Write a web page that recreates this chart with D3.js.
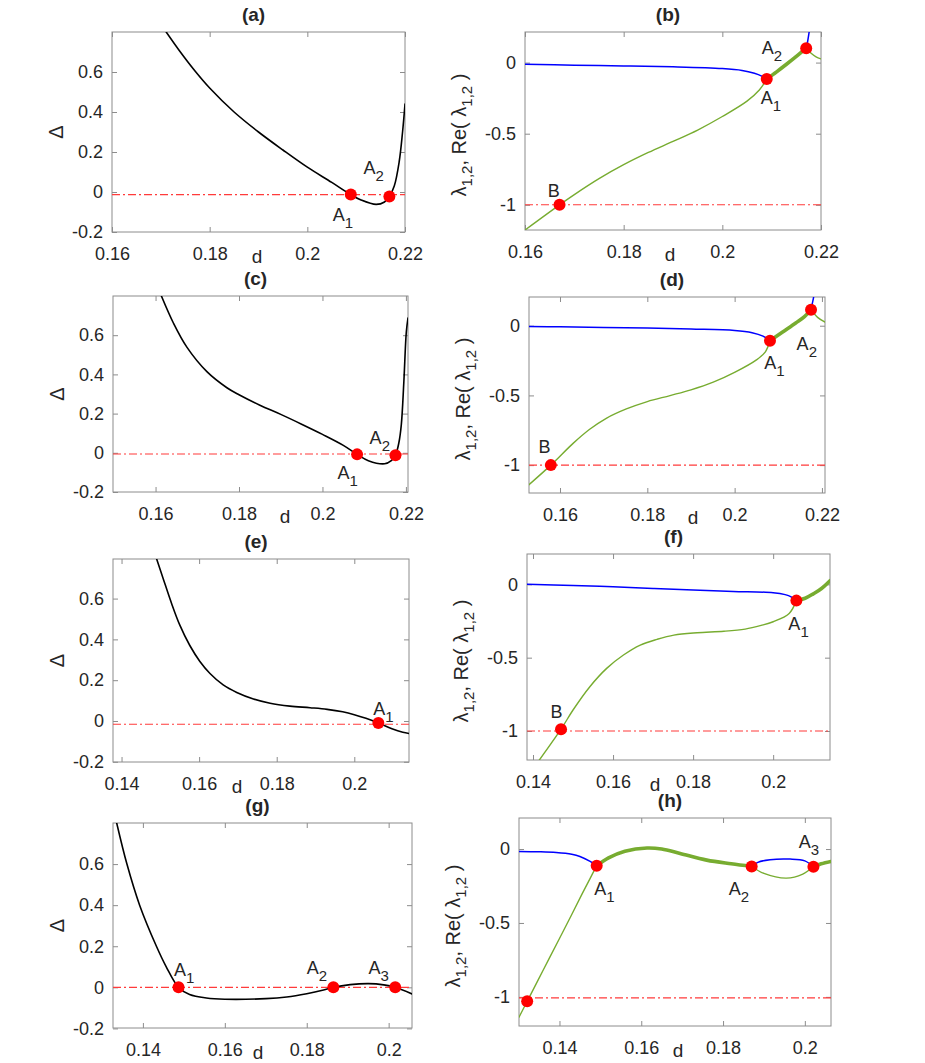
<!DOCTYPE html>
<html><head><meta charset="utf-8">
<script src="https://cdn.jsdelivr.net/npm/d3@7"></script>
<style>
body{margin:0;background:#fff}
svg text{font-family:"Liberation Sans",Arial,Helvetica,sans-serif;fill:#262626}
</style>
</head><body>
<svg id="chart" width="925" height="1063"></svg>
<script>
// ---------------- DATA ----------------
const xTicksABCD = [0.16, 0.18, 0.2, 0.22];
const xTicksEFGH = [0.14, 0.16, 0.18, 0.2];
const deltaTicks = [-0.2, 0, 0.2, 0.4, 0.6];
const lambdaTicks = [-1, -0.5, 0];

// (a) Delta(d)
const deltaA = [[0.1711,0.80],[0.1740,0.70],[0.1770,0.605],[0.1800,0.52],[0.1850,0.40],[0.1900,0.30],[0.1950,0.21],[0.2000,0.124],[0.2050,0.048],[0.2089,-0.013],[0.2110,-0.040],[0.2141,-0.062],[0.2158,-0.050],[0.2168,-0.022],[0.2178,0.03],[0.2188,0.15],[0.2195,0.30],[0.2200,0.44]];
const pointsA = [[0.2089,-0.013],[0.2168,-0.022]];
const labelsA = [["A","1",0.2052,-0.146],["A","2",0.2115,0.091]];
const refA = -0.013;

// (b) eigenvalues
const blueB1 = [[0.1600,-0.012],[0.1700,-0.018],[0.1800,-0.024],[0.1900,-0.030],[0.2000,-0.042],[0.2040,-0.055],[0.2065,-0.075],[0.2080,-0.095],[0.2090,-0.116]];
const blueB2 = [[0.2170,0.101],[0.2173,0.150],[0.2176,0.215],[0.2178,0.26]];
const greenB1 = [[0.1600,-1.177],[0.1670,-1.0],[0.1700,-0.928],[0.1750,-0.816],[0.1800,-0.718],[0.1850,-0.632],[0.1900,-0.554],[0.1950,-0.474],[0.2000,-0.379],[0.2050,-0.271],[0.2075,-0.193],[0.2090,-0.116]];
const greenB2 = [[0.2170,0.101],[0.2180,0.065],[0.2190,0.040],[0.2200,0.026]];
const thickB = [[0.2090,-0.116],[0.2110,-0.065],[0.2130,-0.012],[0.2150,0.043],[0.2170,0.101]];
const pointsB = [[0.2090,-0.116],[0.2170,0.101],[0.1670,-1.0]];
const labelsB = [["A","1",0.2078,-0.292],["A","2",0.2080,0.061],["B","",0.1646,-0.948]];
const refB = -1.0;

// (c) Delta(d)
const deltaC = [[0.1614,0.80],[0.1643,0.661],[0.1675,0.539],[0.1723,0.414],[0.1771,0.332],[0.1800,0.296],[0.1850,0.243],[0.1900,0.196],[0.1950,0.146],[0.2000,0.094],[0.2050,0.038],[0.2083,-0.008],[0.2110,-0.040],[0.2149,-0.056],[0.2165,-0.040],[0.2175,-0.012],[0.2183,0.05],[0.2189,0.144],[0.2195,0.36],[0.2201,0.617],[0.2205,0.688]];
const pointsC = [[0.2083,-0.008],[0.2175,-0.012]];
const labelsC = [["A","1",0.2036,-0.132],["A","2",0.2113,0.047]];
const refC = -0.006;

// (d) eigenvalues
const blueD1 = [[0.1529,-0.005],[0.1600,-0.008],[0.1700,-0.012],[0.1800,-0.017],[0.1900,-0.024],[0.2000,-0.034],[0.2040,-0.050],[0.2065,-0.075],[0.2081,-0.108]];
const blueD2 = [[0.2175,0.115],[0.2178,0.16],[0.2181,0.206],[0.2183,0.26]];
const greenD1 = [[0.1529,-1.14],[0.1579,-1.0],[0.1630,-0.844],[0.1668,-0.743],[0.1706,-0.664],[0.1752,-0.597],[0.1800,-0.544],[0.1852,-0.501],[0.1900,-0.460],[0.1951,-0.405],[0.2001,-0.333],[0.2050,-0.245],[0.2070,-0.189],[0.2081,-0.108]];
const greenD2 = [[0.2175,0.115],[0.2190,0.060],[0.2207,0.026]];
const thickD = [[0.2081,-0.108],[0.2110,-0.045],[0.2140,0.020],[0.2160,0.065],[0.2175,0.115]];
const pointsD = [[0.2081,-0.108],[0.2175,0.115],[0.1579,-1.0]];
const labelsD = [["A","1",0.2068,-0.309],["A","2",0.2142,-0.173],["B","",0.1551,-0.916]];
const refD = -1.0;

// (e) Delta(d)
const deltaE = [[0.1490,0.797],[0.1507,0.700],[0.1529,0.576],[0.1550,0.471],[0.1576,0.370],[0.1602,0.292],[0.1628,0.233],[0.1662,0.177],[0.1697,0.140],[0.1740,0.108],[0.1783,0.087],[0.1834,0.073],[0.1886,0.065],[0.1930,0.057],[0.1970,0.045],[0.2000,0.031],[0.2030,0.013],[0.2062,-0.010],[0.2097,-0.038],[0.2125,-0.055],[0.2141,-0.061]];
const pointsE = [[0.2062,-0.010]];
const labelsE = [["A","1",0.2049,0.030]];
const refE = -0.016;

// (f) eigenvalues
const blueF1 = [[0.1385,0.0],[0.1500,-0.008],[0.1600,-0.016],[0.1700,-0.028],[0.1800,-0.039],[0.1900,-0.048],[0.2000,-0.057],[0.2030,-0.070],[0.2045,-0.085],[0.2058,-0.111]];
const greenF1 = [[0.1413,-1.209],[0.1470,-0.988],[0.1500,-0.857],[0.1542,-0.698],[0.1584,-0.573],[0.1626,-0.482],[0.1668,-0.414],[0.1710,-0.375],[0.1752,-0.346],[0.1810,-0.330],[0.1877,-0.320],[0.1930,-0.305],[0.1970,-0.280],[0.2000,-0.255],[0.2040,-0.198],[0.2058,-0.111]];
const thickF = [[0.2058,-0.111],[0.2080,-0.095],[0.2100,-0.065],[0.2120,-0.030],[0.2142,0.025]];
const pointsF = [[0.2058,-0.111],[0.1470,-0.988]];
const labelsF = [["A","1",0.2038,-0.312],["B","",0.1444,-0.914]];
const refF = -1.0;

// (g) Delta(d)
const deltaG = [[0.1336,0.80],[0.1361,0.60],[0.1392,0.40],[0.1433,0.20],[0.1457,0.10],[0.1487,0.0],[0.1514,-0.035],[0.1555,-0.052],[0.1600,-0.058],[0.1700,-0.055],[0.1751,-0.047],[0.1800,-0.031],[0.1841,-0.013],[0.1865,0.0],[0.1906,0.013],[0.1951,0.018],[0.1988,0.012],[0.2016,0.0],[0.2057,-0.032]];
const pointsG = [[0.1487,0.0],[0.1865,0.0],[0.2016,0.0]];
const labelsG = [["A","1",0.1476,0.054],["A","2",0.1800,0.065],["A","3",0.1951,0.065]];
const refG = 0.0;

// (h) eigenvalues
const blueH1 = [[0.1301,-0.016],[0.1350,-0.018],[0.1392,-0.023],[0.1430,-0.035],[0.1450,-0.050],[0.1475,-0.084],[0.1491,-0.113]];
const greenH1 = [[0.1301,-1.138],[0.1321,-1.03],[0.1360,-0.82],[0.1400,-0.605],[0.1430,-0.443],[0.1455,-0.305],[0.1475,-0.198],[0.1491,-0.113]];
const thickH1 = [[0.1491,-0.113],[0.1520,-0.060],[0.1560,-0.015],[0.1614,0.007],[0.1650,0.0],[0.1695,-0.030],[0.1760,-0.075],[0.1820,-0.100],[0.1870,-0.118]];
const blueH2 = [[0.1870,-0.118],[0.1885,-0.090],[0.1915,-0.072],[0.1964,-0.068],[0.2000,-0.080],[0.2021,-0.120]];
const greenH2 = [[0.1870,-0.118],[0.1900,-0.165],[0.1955,-0.197],[0.1995,-0.170],[0.2021,-0.120]];
const thickH2 = [[0.2021,-0.120],[0.2040,-0.100],[0.2064,-0.084]];
const pointsH = [[0.1491,-0.113],[0.1870,-0.118],[0.2021,-0.120],[0.1321,-1.03]];
const labelsH = [["A","1",0.1485,-0.31],["A","2",0.1814,-0.31],["A","3",0.1985,0.007]];
const refH = -1.007;

// ---------------- LAYOUT ----------------
const C_BLUE = "#0000ff", C_GREEN = "#77ac30", C_RED = "#ff0000", C_BLACK = "#000000";
const panels = [
  {id:"a", box:{l:112,r:405,t:32,b:232}, xl:257, xDom:[0.16,0.22], yDom:[-0.2,0.8], xTicks:xTicksABCD, yTicks:deltaTicks, kind:"delta",
   lines:[{data:deltaA,c:C_BLACK,w:1.6}], pts:pointsA, labels:labelsA, ref:refA},
  {id:"b", box:{l:525,r:821,t:32,b:230}, xl:670, xDom:[0.16,0.22], yDom:[-1.177,0.215], xTicks:xTicksABCD, yTicks:lambdaTicks, kind:"lambda",
   lines:[{data:blueB1,c:C_BLUE,w:1.5},{data:blueB2,c:C_BLUE,w:1.5},{data:greenB1,c:C_GREEN,w:1.4},{data:greenB2,c:C_GREEN,w:1.4},{data:thickB,c:C_GREEN,w:3.6}], pts:pointsB, labels:labelsB, ref:refB},
  {id:"c", box:{l:113,r:408,t:296,b:492}, xl:285, xDom:[0.1498,0.2205], yDom:[-0.2,0.8], xTicks:xTicksABCD, yTicks:deltaTicks, kind:"delta",
   lines:[{data:deltaC,c:C_BLACK,w:1.6}], pts:pointsC, labels:labelsC, ref:refC},
  {id:"d", box:{l:529,r:825,t:297,b:493}, xl:693, xDom:[0.1529,0.2207], yDom:[-1.2,0.206], xTicks:xTicksABCD, yTicks:lambdaTicks, kind:"lambda",
   lines:[{data:blueD1,c:C_BLUE,w:1.5},{data:blueD2,c:C_BLUE,w:1.5},{data:greenD1,c:C_GREEN,w:1.4},{data:greenD2,c:C_GREEN,w:1.4},{data:thickD,c:C_GREEN,w:3.6}], pts:pointsD, labels:labelsD, ref:refD},
  {id:"e", box:{l:113,r:409,t:559,b:762}, xl:237, xDom:[0.1378,0.2141], yDom:[-0.201,0.794], xTicks:xTicksEFGH, yTicks:deltaTicks, kind:"delta",
   lines:[{data:deltaE,c:C_BLACK,w:1.6}], pts:pointsE, labels:labelsE, ref:refE},
  {id:"f", box:{l:527,r:830,t:554,b:760}, xl:655, xDom:[0.1385,0.2142], yDom:[-1.198,0.207], xTicks:xTicksEFGH, yTicks:lambdaTicks, kind:"lambda",
   lines:[{data:blueF1,c:C_BLUE,w:1.5},{data:greenF1,c:C_GREEN,w:1.4},{data:thickF,c:C_GREEN,w:3.6}], pts:pointsF, labels:labelsF, ref:refF},
  {id:"g", box:{l:113,r:412,t:823,b:1028}, xl:258, xDom:[0.1327,0.2057], yDom:[-0.198,0.8], xTicks:xTicksEFGH, yTicks:deltaTicks, kind:"delta",
   lines:[{data:deltaG,c:C_BLACK,w:1.6}], pts:pointsG, labels:labelsG, ref:refG},
  {id:"h", box:{l:519,r:831,t:818,b:1026}, xl:678, xDom:[0.1301,0.2064], yDom:[-1.197,0.21], xTicks:xTicksEFGH, yTicks:lambdaTicks, kind:"lambda",
   lines:[{data:blueH1,c:C_BLUE,w:1.5},{data:greenH1,c:C_GREEN,w:1.4},{data:thickH1,c:C_GREEN,w:3.6},{data:blueH2,c:C_BLUE,w:1.5},{data:greenH2,c:C_GREEN,w:1.4},{data:thickH2,c:C_GREEN,w:3.6}], pts:pointsH, labels:labelsH, ref:refH}
];

const svg = d3.select("#chart");
const AXIS_COLOR = "#8c8c8c";
const fmt = v => String(v);

panels.forEach(p => {
  const B = p.box;
  const x = d3.scaleLinear().domain(p.xDom).range([B.l, B.r]);
  const y = d3.scaleLinear().domain(p.yDom).range([B.b, B.t]);
  const g = svg.append("g").attr("class", "panel-" + p.id);

  const clipId = "clip-" + p.id;
  g.append("clipPath").attr("id", clipId).append("rect")
    .attr("x", B.l).attr("y", B.t).attr("width", B.r - B.l).attr("height", B.b - B.t);

  const styleAxis = sel => {
    sel.select(".domain").remove();
    sel.selectAll(".tick line").attr("stroke", AXIS_COLOR).attr("stroke-width", 1);
    sel.selectAll(".tick text").attr("font-size", 18).attr("fill", "#262626")
      .attr("font-family", "\"Liberation Sans\",Arial,sans-serif");
  };
  g.append("g").attr("transform", `translate(0,${B.b})`)
    .call(d3.axisBottom(x).tickValues(p.xTicks).tickSize(-5).tickPadding(15).tickFormat(fmt)).call(styleAxis);
  g.append("g").attr("transform", `translate(0,${B.t})`)
    .call(d3.axisTop(x).tickValues(p.xTicks).tickSize(-5).tickFormat("")).call(styleAxis);
  g.append("g").attr("transform", `translate(${B.l},0)`)
    .call(d3.axisLeft(y).tickValues(p.yTicks).tickSize(-5).tickPadding(9).tickFormat(fmt)).call(styleAxis);
  g.append("g").attr("transform", `translate(${B.r},0)`)
    .call(d3.axisRight(y).tickValues(p.yTicks).tickSize(-5).tickFormat("")).call(styleAxis);

  g.append("rect").attr("x", B.l).attr("y", B.t).attr("width", B.r - B.l).attr("height", B.b - B.t)
    .attr("fill", "none").attr("stroke", AXIS_COLOR).attr("stroke-width", 1);

  const plot = g.append("g").attr("clip-path", `url(#${clipId})`);

  plot.append("line").attr("x1", B.l).attr("x2", B.r).attr("y1", y(p.ref)).attr("y2", y(p.ref))
    .attr("stroke", "#ff3b3b").attr("stroke-width", 1.1).attr("stroke-dasharray", "8,3,2,3");

  const line = d3.line().x(d => x(d[0])).y(d => y(d[1])).curve(d3.curveCatmullRom.alpha(0.5));
  p.lines.forEach(L => {
    plot.append("path").datum(L.data).attr("d", line).attr("fill", "none")
      .attr("stroke", L.c).attr("stroke-width", L.w).attr("stroke-linejoin", "round").attr("stroke-linecap", "round");
  });

  g.selectAll("circle.pt").data(p.pts).enter().append("circle").attr("class", "pt")
    .attr("cx", d => x(d[0])).attr("cy", d => y(d[1])).attr("r", 6).attr("fill", C_RED);

  p.labels.forEach(L => {
    const t = g.append("text").attr("x", x(L[2])).attr("y", y(L[3])).attr("font-size", 18).attr("fill", "#000");
    t.append("tspan").text(L[0]);
    if (L[1]) t.append("tspan").attr("dy", 7).attr("font-size", 15).text(L[1]);
  });

  g.append("text").attr("x", (B.l + B.r) / 2 - 5).attr("y", B.t - 11).attr("text-anchor", "middle")
    .attr("font-size", 19).attr("font-weight", "bold").attr("fill", "#000").text("(" + p.id + ")");

  g.append("text").attr("x", p.xl).attr("y", B.b + 31).attr("text-anchor", "middle")
    .attr("font-size", 19).text("d");

  const cy = (B.t + B.b) / 2;
  if (p.kind === "delta") {
    g.append("text").attr("transform", `translate(${B.l - 49},${cy}) rotate(-90)`)
      .attr("text-anchor", "middle").attr("font-size", 20).text("\u0394");
  } else {
    const t = g.append("text").attr("transform", `translate(${B.l - 59},${cy + 4}) rotate(-90)`)
      .attr("text-anchor", "middle").attr("font-size", 20);
    t.append("tspan").text("\u03bb");
    t.append("tspan").attr("dy", 6).attr("font-size", 15).text("1,2");
    t.append("tspan").attr("dy", -6).text(",  Re(  \u03bb");
    t.append("tspan").attr("dy", 6).attr("font-size", 15).text("1,2");
    t.append("tspan").attr("dy", -6).text("  )");
  }
});
</script>
</body></html>
